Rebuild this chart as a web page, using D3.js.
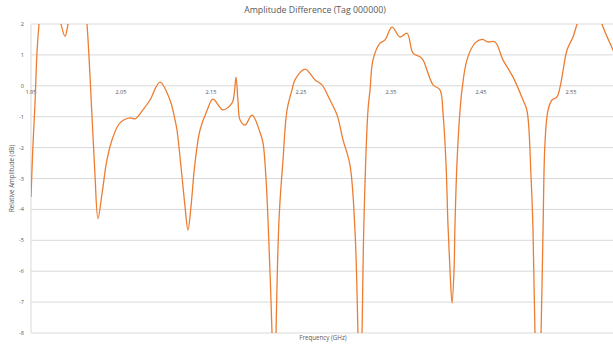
<!DOCTYPE html>
<html>
<head>
<meta charset="utf-8">
<script src="https://cdn.jsdelivr.net/npm/d3@7"></script>
<style>
  html, body { margin: 0; padding: 0; background: #fff; }
  svg { display: block; font-family: "Open Sans", "Liberation Sans", sans-serif; }
</style>
</head>
<body>
<svg id="chart" width="613" height="347"></svg>
<script>
// frequency (GHz) and relative amplitude (dB)
var freq = [1.9500, 1.9522, 1.9544, 1.9567, 1.9589, 1.9633, 1.9711, 1.9778, 1.9833, 1.9878,
  1.9911, 1.9967, 2.0044, 2.0089, 2.0122, 2.0178, 2.0211, 2.0244, 2.0289, 2.0344,
  2.0411, 2.0489, 2.0600, 2.0656, 2.0744, 2.0822, 2.0933, 2.1044, 2.1100, 2.1122,
  2.1178, 2.1211, 2.1244, 2.1278, 2.1311, 2.1344, 2.1378, 2.1456, 2.1522, 2.1633,
  2.1733, 2.1756, 2.1778, 2.1800, 2.1822, 2.1878, 2.1956, 2.2044, 2.2078, 2.2111,
  2.2133, 2.2178, 2.2200, 2.2222, 2.2256, 2.2300, 2.2344, 2.2400, 2.2433, 2.2544,
  2.2656, 2.2733, 2.2822, 2.2900, 2.2967, 2.3044, 2.3100, 2.3133, 2.3156, 2.3178,
  2.3200, 2.3244, 2.3267, 2.3300, 2.3378, 2.3433, 2.3511, 2.3600, 2.3678, 2.3744,
  2.3822, 2.3856, 2.3967, 2.4044, 2.4078, 2.4111, 2.4133, 2.4156, 2.4178, 2.4200,
  2.4211, 2.4233, 2.4267, 2.4289, 2.4344, 2.4433, 2.4511, 2.4578, 2.4656, 2.4744,
  2.4856, 2.4967, 2.5011, 2.5056, 2.5078, 2.5100, 2.5133, 2.5167, 2.5189, 2.5211,
  2.5244, 2.5289, 2.5344, 2.5456, 2.5522, 2.5567, 2.5656, 2.5767, 2.5844, 2.5967,
  2.6067];
var amp = [-3.6, -1.9, -0.6, 1.1, 2.0, 3.2, 3.8, 3.0, 2.0, 1.6,
  2.0, 2.9, 3.4, 2.9, 2.0, -1.0, -2.9, -4.3, -3.5, -2.4,
  -1.66, -1.2, -1.04, -1.07, -0.78, -0.46, 0.12, -0.46, -1.1, -1.43,
  -2.95, -3.9, -4.67, -3.9, -2.8, -2.0, -1.43, -0.8, -0.43, -0.78,
  -0.56, -0.3, 0.28, -0.5, -1.1, -1.27, -0.95, -1.5, -1.85, -3.0,
  -4.3, -8.0, -11, -8.0, -4.3, -2.4, -0.8, -0.13, 0.19, 0.54,
  0.19, 0.03, -0.46, -0.94, -1.75, -2.56, -4.7, -8.0, -11, -8.0,
  -4.3, -0.8, -0.13, 0.84, 1.38, 1.48, 1.9, 1.58, 1.7, 1.06,
  0.94, 0.84, 0.03, -0.13, -0.9, -2.5, -4.5, -6.0, -7.03, -6.0,
  -4.5, -2.5, -0.8, -0.13, 0.84, 1.38, 1.5, 1.42, 1.42, 0.84,
  0.28, -0.46, -0.8, -2.95, -4.7, -8.0, -11, -8.0, -4.7, -1.85,
  -0.8, -0.46, -0.36, 1.16, 1.58, 2.0, 2.8, 2.9, 2.0, 1.16,
  0.5];
var xTicks = [1.95, 2.05, 2.15, 2.25, 2.35, 2.45, 2.55];
var yTicks = [2, 1, 0, -1, -2, -3, -4, -5, -6, -7, -8];

function drawChart() {
  var svg = d3.select('#chart');
  var plotL = 31, plotR = 613, plotT = 24, plotB = 333;
  var x = d3.scaleLinear().domain([1.95, 1.95 + (plotR - plotL) / 900]).range([plotL, plotR]);
  var y = d3.scaleLinear().domain([-8, 2]).range([plotB, plotT]);
  var grey = '#595959';

  //标题
  svg.append('text')
    .attr('x', 315).attr('y', 13)
    .attr('text-anchor', 'middle')
    .attr('fill', grey)
    .style('font-size', '8.8px')
    .text('Amplitude Difference (Tag 000000)');

  //横向网格
  svg.append('g')
    .selectAll('line')
    .data(yTicks)
    .enter()
    .append('line')
      .attr('x1', plotL).attr('x2', plotR)
      .attr('y1', function(d){ return y(d); })
      .attr('y2', function(d){ return y(d); })
      .attr('stroke', '#d9d9d9')
      .attr('stroke-width', 1);

  //纵轴线
  svg.append('line')
    .attr('x1', plotL).attr('x2', plotL)
    .attr('y1', plotT).attr('y2', plotB)
    .attr('stroke', '#d9d9d9');

  //纵轴刻度
  svg.append('g')
    .selectAll('text')
    .data(yTicks)
    .enter()
    .append('text')
      .attr('x', 24)
      .attr('y', function(d){ return y(d) + 2; })
      .attr('text-anchor', 'end')
      .attr('fill', grey)
      .style('font-size', '5.6px')
      .text(function(d){ return d; });

  //横轴刻度（在0线下方）
  svg.append('g')
    .selectAll('text')
    .data(xTicks)
    .enter()
    .append('text')
      .attr('x', function(d){ return x(d); })
      .attr('y', y(0) + 8)
      .attr('text-anchor', 'middle')
      .attr('fill', grey)
      .style('font-size', '5.6px')
      .text(function(d){ return d.toFixed(2); });

  //轴标题
  svg.append('text')
    .attr('x', 323).attr('y', 340)
    .attr('text-anchor', 'middle')
    .attr('fill', grey)
    .style('font-size', '6.2px')
    .text('Frequency (GHz)');
  svg.append('text')
    .attr('transform', 'translate(14,' + ((plotT + plotB) / 2) + ') rotate(-90)')
    .attr('text-anchor', 'middle')
    .attr('fill', grey)
    .style('font-size', '6.2px')
    .text('Relative Amplitude (dB)');

  //曲线，超出坐标区的部分裁掉
  svg.append('clipPath')
    .attr('id', 'plot-clip')
    .append('rect')
      .attr('x', plotL).attr('y', plotT)
      .attr('width', plotR - plotL).attr('height', plotB - plotT);

  var points = freq.map(function(f, i){ return [f, amp[i]]; });
  var line = d3.line()
    .x(function(d){ return x(d[0]); })
    .y(function(d){ return y(d[1]); })
    .curve(d3.curveCatmullRom.alpha(0.5));

  svg.append('path')
    .datum(points)
    .attr('clip-path', 'url(#plot-clip)')
    .attr('fill', 'none')
    .attr('stroke', '#ed7d31')
    .attr('stroke-width', 1.3)
    .attr('stroke-linejoin', 'round')
    .attr('d', line);
}

drawChart();
</script>
</body>
</html>
